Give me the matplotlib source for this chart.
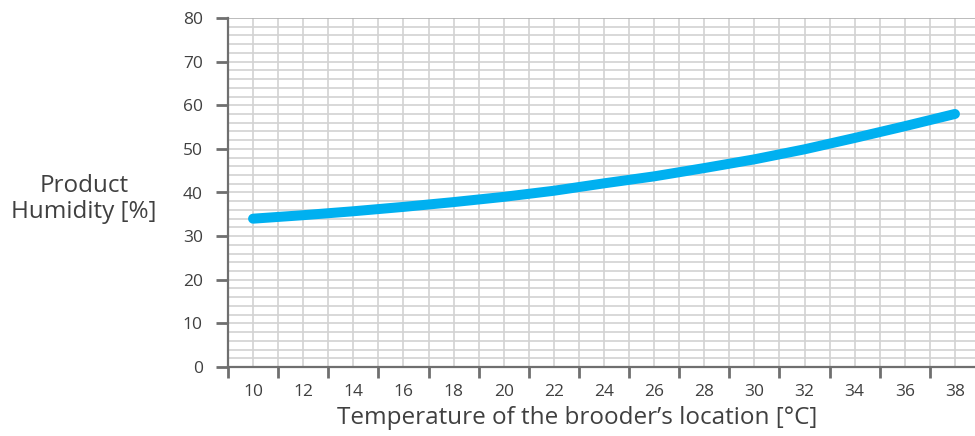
import numpy as np
import matplotlib
matplotlib.use('Agg')
import matplotlib.pyplot as plt
from matplotlib.ticker import FixedLocator

plt.rcParams['font.family'] = ['Open Sans', 'DejaVu Sans']

# values
temperature = [10, 12, 14, 16, 18, 20, 22, 24, 26, 28, 30, 32, 34, 36, 38]
humidity = [34.0, 34.8, 35.7, 36.7, 37.8, 39.0, 40.4, 42.1, 43.7, 45.6, 47.6, 49.9, 52.5, 55.2, 58.0]

x_label_values = list(range(10, 39, 2))
x_tick_marks = list(range(9, 38, 2))
y_tick_values = list(range(0, 81, 10))

text_col = '#404040'
grid_col = '#d2d2d2'
axis_col = '#6f6f6f'

fig = plt.figure(figsize=(9.75, 4.36), dpi=100)
ax = fig.add_axes([228 / 975, 1 - 367 / 436, 1 - 228 / 975, (367 - 18) / 436])

ax.set_xlim(9, 38.8)
ax.set_ylim(0, 80)

# grid: every degree vertically, every 2 % horizontally
for xv in range(9, 39):
    ax.axvline(xv, color=grid_col, lw=1.2, zorder=1)
for yv in range(0, 81, 2):
    ax.axhline(yv, color='#b0b0b0' if yv == 80 else grid_col, lw=1.2, zorder=1)

ax.plot(temperature, humidity, color='#00b0f0', lw=7.2,
        solid_capstyle='round', solid_joinstyle='round', zorder=3)

for side in ['top', 'right']:
    ax.spines[side].set_visible(False)
for side in ['left', 'bottom']:
    ax.spines[side].set_color(axis_col)
    ax.spines[side].set_linewidth(1.6)

ax.yaxis.set_major_locator(FixedLocator(y_tick_values))
ax.tick_params(axis='y', length=8.6, width=2, color=axis_col,
               labelsize=12.5, labelcolor=text_col, pad=9.5)

ax.xaxis.set_major_locator(FixedLocator(x_tick_marks))
ax.xaxis.set_minor_locator(FixedLocator(x_label_values))
ax.xaxis.set_major_formatter(plt.NullFormatter())
ax.xaxis.set_minor_formatter(plt.FuncFormatter(lambda v, p: f'{v:.0f}'))
ax.tick_params(axis='x', which='major', length=8, width=2, color=axis_col)
ax.tick_params(axis='x', which='minor', length=0, labelsize=12.5,
               labelcolor=text_col, pad=12)

ax.set_xlabel('Temperature of the brooder’s location [°C]', fontsize=17.5,
              color=text_col, va='center')
ax.xaxis.set_label_coords((577 - 228) / (975 - 228), (367 - 418) / 349)

fig.text(84 / 975, 1 - 199 / 436, 'Product\nHumidity [%]', fontsize=17.5,
         color=text_col, ha='center', va='center', multialignment='center',
         linespacing=1.15)

fig.savefig('out.png', dpi=100)
